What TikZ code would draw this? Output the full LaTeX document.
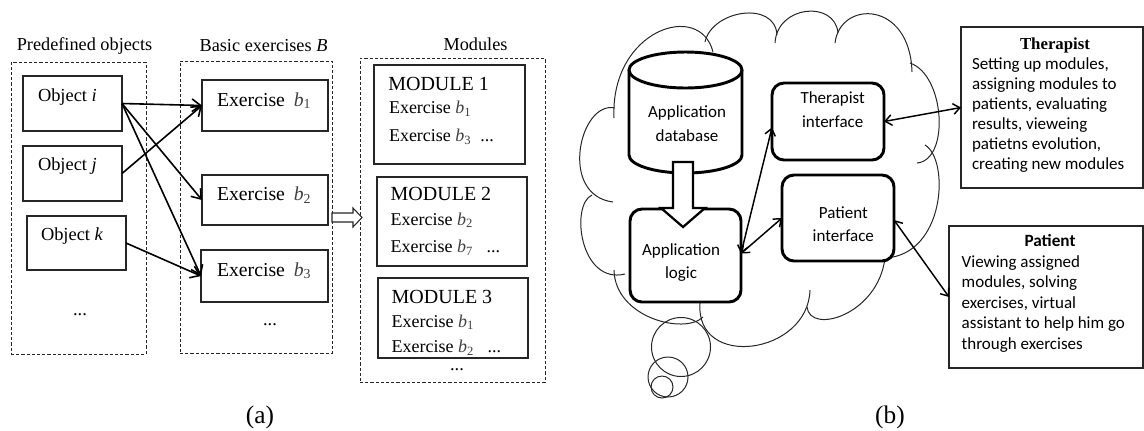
\documentclass[tikz,border=0pt]{standalone}
\usepackage{fontspec}
\setmainfont{Liberation Serif}
\newfontfamily\calibri{Carlito}
\usetikzlibrary{arrows.meta,fit,calc}
\newcommand\fsz[2]{\fontsize{#1}{#2}\selectfont}
\begin{document}
\begin{tikzpicture}[x=0.75pt,y=-0.75pt,
  every node/.style={inner sep=0pt, outer sep=0pt},
  group/.style={draw=black!85, line width=0.75pt, dash pattern=on 2.4pt off 1.5pt},
  itembox/.style={draw=black!85, line width=1.1pt},
  head/.style={font=\fsz{13.7}{16}, anchor=base},
  objtxt/.style={font=\fsz{13.8}{16}, anchor=base west},
  extxt/.style={font=\fsz{14.8}{17}, anchor=base west},
  modtitle/.style={font=\fsz{15}{17}, anchor=base west},
  modtxt/.style={font=\fsz{13.5}{16}, anchor=base west},
  dots/.style={font=\fsz{13.8}{16}, anchor=base, text height=2pt},
  flow/.style={line width=1.2pt, -{Straight Barb[length=6.5pt,width=9.5pt,line width=1.2pt]}},
  puff/.style={draw=black!85, line width=0.75pt},
  roundbox/.style={draw, line width=2.2pt, rounded corners=9pt, fill=white},
  ui/.style={font=\calibri\fsz{12.75}{17.5}, align=center, anchor=north},
  link/.style={line width=1.1pt, {Straight Barb[length=5pt,width=8pt,line width=1.1pt]}-{Straight Barb[length=5pt,width=8pt,line width=1.1pt]}},
  notebox/.style={draw=black!85, line width=0.8pt},
  note/.style={font=\calibri\fsz{12.75}{15}, align=left, anchor=north west},
  caption/.style={font=\fsz{19}{22}, anchor=base},
]
\useasboundingbox (0,0) rectangle (1144,430);

% ---------------- (a) objects, exercises and modules ----------------
\node[head] (hobj) at (84.5,50) {Predefined objects};
\node[head] (hex) at (263.5,51.7) {Basic exercises \textit{B}};
\node[head] (hmod) at (475.5,50.7) {Modules};

\node[group, fit={(11,62)(146,354)}] (gobj) {};
\node[group, fit={(180,61)(332,353)}] (gex) {};
\node[group, fit={(360,58)(545,382)}] (gmod) {};

\node[itembox, fit={(23,76)(122,131)}] (oi) {};
\node[itembox, fit={(23,146)(122,201)}] (oj) {};
\node[itembox, fit={(27,216)(126,270)}] (ok) {};
\node[objtxt] (toi) at (38,101) {Object \textit{i}};
\node[objtxt] (toj) at (38,170.7) {Object \textit{j}};
\node[objtxt] (tok) at (41,240) {Object \textit{k}};
\node[dots] (dobj) at (80,315) {...};

\node[itembox, fit={(202,80)(328,131)}] (b1) {};
\node[itembox, fit={(202,175)(328,225)}] (b2) {};
\node[itembox, fit={(201,250)(328,302)}] (b3) {};
\node[extxt] (tb1) at (217,106) {Exercise\hspace{0.45em}{\color{black!75}\textit{b}\textsubscript{1}}};
\node[extxt] (tb2) at (217,200.7) {Exercise\hspace{0.45em}{\color{black!75}\textit{b}\textsubscript{2}}};
\node[extxt] (tb3) at (217,276) {Exercise\hspace{0.45em}{\color{black!75}\textit{b}\textsubscript{3}}};
\node[dots] (dex) at (270,325) {...};

\draw[flow] (oi.east) -- (b1.west);
\draw[flow] (oi.east) -- (b2.west);
\draw[flow] (oi.east) -- (b3.west);
\draw[flow] (oj.east) -- (b1.west);
\draw[flow] (ok.east) -- (b3.west);

% hollow block arrow from the exercises to the modules
\draw[draw=black!85, line width=0.8pt, fill=white]
  (332,213) -- (353,213) -- (353,208) -- (362,217.5) -- (353,227) -- (353,222) -- (332,222) -- cycle;

\node[itembox, fit={(374,65)(525,164)}] (m1) {};
\node[itembox, fit={(377,177)(527,266)}] (m2) {};
\node[itembox, fit={(378,278)(528,358)}] (m3) {};
\node[modtitle] (tm1) at (388.3,90.7) {MODULE 1};
\node[modtxt] at (389,113.3) {Exercise {\color{black!75}\textit{b}\textsubscript{1}}};
\node[modtxt] at (389,141.7) {Exercise {\color{black!75}\textit{b}\textsubscript{3}}\ \ ...};
\node[modtitle] (tm2) at (390.7,200.7) {MODULE 2};
\node[modtxt] at (390.7,225) {Exercise {\color{black!75}\textit{b}\textsubscript{2}}};
\node[modtxt] at (390.7,252.7) {Exercise {\color{black!75}\textit{b}\textsubscript{7}}\ \ \ ...};
\node[modtitle] (tm3) at (391.7,303) {MODULE 3};
\node[modtxt] at (391.7,327) {Exercise {\color{black!75}\textit{b}\textsubscript{1}}};
\node[modtxt] at (391.7,352.5) {Exercise {\color{black!75}\textit{b}\textsubscript{2}}\ \ \ ...};
\node[dots] (dmod) at (457,370.7) {...};

\node[caption] (capa) at (260,423) {(a)};

% ---------------- (b) application architecture ----------------
% thought cloud, one puff at a time
\draw[puff] (615,108) .. controls (580,100) and (558,195) .. (613,202);
\draw[puff] (592,195) .. controls (570,205) and (580,285) .. (625,274);
\draw[puff] (703,317) .. controls (685,335) and (615,318) .. (614,270);
\draw[puff] (810,290) .. controls (808,355) and (695,370) .. (700,303);
\draw[puff] (885,258) .. controls (878,315) and (810,335) .. (807,307);
\draw[puff] (925,145) .. controls (950,160) and (945,255) .. (885,258);
\draw[puff] (910,63) .. controls (945,75) and (950,160) .. (917,163);
\draw[puff] (835,43) .. controls (840,0) and (910,0) .. (912,72);
\draw[puff] (775,43) .. controls (777,5) and (835,0) .. (838,33);
\draw[puff] (705,42) .. controls (712,10) and (775,0) .. (777,35);
\draw[puff] (614,118) .. controls (610,30) and (700,0) .. (713,52);
% trailing bubbles
\draw[puff] (681,347) circle[radius=29.5];
\draw[puff] (668,377) circle[radius=20];
\draw[puff] (662,387) circle[radius=11];

% database cylinder
\draw[line width=2.2pt, fill=white] (629,70) -- (629,155)
  arc[start angle=180, end angle=0, x radius=56.5, y radius=18] -- (742,70);
\draw[line width=2.2pt, fill=white] (685.5,70) ellipse[x radius=56.5, y radius=18];
\node[fit={(629,52)(742,173)}] (db) {};
\node[ui] (tdb) at (687,106) {Application\\database};

\node[roundbox, fit={(630,209)(741,302)}] (lg) {};
\node[ui] (tlg) at (681,243.7) {Application\\logic};

% block arrow from the database into the logic
\draw[line width=1.7pt, fill=white]
  (673,162) -- (693,162) -- (693,208) -- (705,208) -- (683,227) -- (661,208) -- (673,208) -- cycle;

\node[roundbox, fit={(772,83)(884,160)}] (th) {};
\node[ui] (tth) at (832.7,92) {Therapist\\interface};
\node[roundbox, fit={(782,175)(894,261)}] (pt) {};
\node[ui] (tpt) at (843.3,206.3) {Patient\\interface};

% role descriptions
\node[notebox, fit={(961,27)(1143,188)}] (tt) {};
\node[font=\bfseries\fsz{12.6}{15}, anchor=base] (ttt) at (1055,49.3) {Therapist};
\node[note] (ttb) at (972,58) {Setting up modules,\\assigning modules to\\patients, evaluating\\results, vieweing\\patietns evolution,\\creating new modules};

\node[notebox, fit={(949,226)(1143,368)}] (pp) {};
\node[font=\calibri\bfseries\fsz{12.9}{15}, anchor=base] (ppt) at (1050,246.7) {Patient};
\node[note, font=\calibri\fsz{12.75}{15.3}] (ppb) at (961.7,255.7) {Viewing assigned\\modules, solving\\exercises, virtual\\assistant to help him go\\through exercises};

\draw[link] ($(lg.east)+(0,-2)$) -- ($(th.west)+(0,6)$);
\draw[link] ($(lg.east)+(0,-2)$) -- (pt.west);
\draw[link] (th.east) -- (tt.west);
\draw[link] ($(pt.east)+(0,2)$) -- (pp.west);

\node[caption] (capb) at (890,423) {(b)};
\end{tikzpicture}
\end{document}
